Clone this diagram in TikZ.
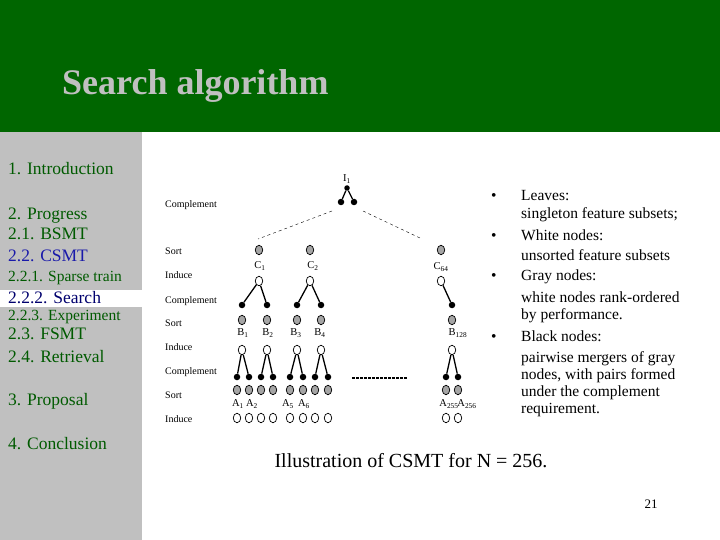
\documentclass[tikz,border=0pt]{standalone}
\usepackage{fontspec}
\setmainfont{Liberation Serif}
\usetikzlibrary{shapes.geometric}

\definecolor{hdrgreen}{RGB}{0,102,0}
\definecolor{sidegray}{RGB}{192,192,192}
\definecolor{sidegreen}{RGB}{0,90,0}
\definecolor{csmtblue}{RGB}{25,25,170}
\definecolor{searchblue}{RGB}{0,0,110}
\definecolor{titlegray}{RGB}{192,192,192}
\definecolor{nodegray}{RGB}{165,165,165}

\tikzset{
  blk/.style={circle,fill=black,inner sep=0pt,minimum size=6.5pt},
  gry/.style={ellipse,draw,line width=0.7pt,fill=nodegray,inner sep=0pt,minimum width=7.5pt,minimum height=9.5pt},
  wht/.style={ellipse,draw,line width=0.7pt,fill=white,inner sep=0pt,minimum width=7.5pt,minimum height=9.5pt},
  merge/.style={line width=1.3pt},
  lvl/.style={anchor=base west,inner sep=0pt,font=\fontsize{10}{12}\selectfont},
  sub/.style={anchor=base,inner sep=0pt,font=\fontsize{10.5}{12}\selectfont},
  side/.style={anchor=base west,inner sep=0pt,text=sidegreen,font=\fontsize{17.5}{20}\selectfont},
  sidesm/.style={side,font=\fontsize{15.5}{18}\selectfont},
  note/.style={anchor=base west,inner sep=0pt,font=\fontsize{15.5}{18}\selectfont}
}

\begin{document}
\begin{tikzpicture}[x=1pt,y=-1pt]
      \useasboundingbox (0,0) rectangle (720,540);

      % HEADER
      \fill[hdrgreen] (0,0) rectangle (720,132);
      \node[anchor=base west,inner sep=0pt,text=titlegray,font=\fontsize{36}{40}\selectfont\bfseries] (title) at (62,95) {Search algorithm};

      % SIDEBAR
      \fill[sidegray] (0,132) rectangle (142,540);
      \fill[white] (0,290) rectangle (142,307);
      \node[side] (intro) at (8,175) {1. Introduction};
      \node[side] (prog) at (8,219) {2. Progress};
      \node[side] (bsmt) at (8,240) {2.1. BSMT};
      \node[side,text=csmtblue] (csmt) at (8,261) {2.2. CSMT};
      \node[sidesm] (sparse) at (8,281) {2.2.1. Sparse train};
      \node[side,text=searchblue] (search) at (8,303.5) {2.2.2. Search};
      \node[sidesm] (exper) at (8,320.5) {2.2.3. Experiment};
      \node[side] (fsmt) at (8,339.5) {2.3. FSMT};
      \node[side] (retr) at (8,362) {2.4. Retrieval};
      \node[side] (prop) at (8,405) {3. Proposal};
      \node[side] (concl) at (8,449) {4. Conclusion};

      % LEVEL NAMES
      \foreach \y/\t [count=\i] in {207.5/Complement,254.5/Sort,278.5/Induce,
          303.5/Complement,326.5/Sort,350.5/Induce,374.5/Complement,398.5/Sort,422.5/Induce}
        \node[lvl] (lv\i) at (165,\y) {\t};

      % TOP MERGE
      \node[sub] (I1) at (347,181.5) {I\textsubscript{1}};
      \node[blk,minimum size=5.5pt] (t0) at (347,188) {};
      \node[blk] (t1) at (341,202) {};
      \node[blk] (t2) at (354,202) {};
      \draw[merge] (t0) -- (t1) (t0) -- (t2);

      \coordinate (dl0) at (332,211);
      \coordinate (dl1) at (258,239);
      \coordinate (dr0) at (363,211);
      \coordinate (dr1) at (420,238);
      \draw[dash pattern=on 3pt off 3pt] (dl0) -- (dl1) (dr0) -- (dr1);

      % C LEVEL
      \foreach \x/\n in {259/1,310/2,441/64} {
        \node[gry] (gc\n) at (\x,250) {};
        \node[wht] (wc\n) at (\x,281) {};
      }
      \node[sub] (lc1) at (260,268.5) {C\textsubscript{1}};
      \node[sub] (lc2) at (313,268.5) {C\textsubscript{2}};
      \node[sub] (lc64) at (441,269.5) {C\textsubscript{64}};

      % B LEVEL
      \foreach \x/\n in {242/1,267/2,297/3,321/4,452/128} {
        \node[blk] (kb\n) at (\x,305) {};
        \node[gry] (gb\n) at (\x,320) {};
        \node[wht] (wb\n) at (\x,350) {};
      }
      \draw[merge] (wc1) -- (kb1) (wc1) -- (kb2) (wc2) -- (kb3) (wc2) -- (kb4) (wc64) -- (kb128);
      \foreach \x/\n in {243/1,268/2,296/3,320/4,458/128}
        \node[sub] (lb\n) at (\x,335.5) {B\textsubscript{\n}};

      % A LEVEL
      \foreach \x/\n in {237/1,249/2,261/3,273/4,290/5,303/6,315/7,328/8,446/255,458/256} {
        \node[blk] (ka\n) at (\x,377) {};
        \node[gry] (ga\n) at (\x,390) {};
        \node[wht] (la\n) at (\x,418) {};
      }
      \foreach \p/\a/\b in {1/1/2,2/3/4,3/5/6,4/7/8,128/255/256}
        \draw[merge] (wb\p) -- (ka\a) (wb\p) -- (ka\b);
      \foreach \x/\n in {238/1,252/2,288/5,304/6,449/255,467/256}
        \node[sub] (lab\n) at (\x,406.5) {A\textsubscript{\n}};

      \coordinate (gp0) at (352,378);
      \coordinate (gp1) at (407,378);
      \draw[line width=1.2pt,dash pattern=on 3pt off 1pt] (gp0) -- (gp1);

      % NOTES
      \foreach \y [count=\i] in {200.5,240.5,280.5,341.5}
        \node[note] (bu\i) at (491,\y) {\textbullet};
      \foreach \y/\t [count=\i] in {200.5/Leaves:,218.5/singleton feature subsets;,
          240.5/White nodes:,260.5/unsorted feature subsets,280.5/Gray nodes:,
          302.5/white nodes rank-ordered,319.5/by performance.,341.5/Black nodes:,
          362.5/pairwise mergers of gray,379.5/{nodes, with pairs formed},
          396.5/under the complement,413.5/requirement.}
        \node[note] (n\i) at (521,\y) {\t};

      % CAPTION
      \node[anchor=base,inner sep=0pt,font=\fontsize{20}{24}\selectfont] (cap) at (411,467) {Illustration of CSMT for N = 256.};
      \node[anchor=base,inner sep=0pt,font=\fontsize{13}{15}\selectfont] (page) at (651,508.5) {21};
\end{tikzpicture}
\end{document}
